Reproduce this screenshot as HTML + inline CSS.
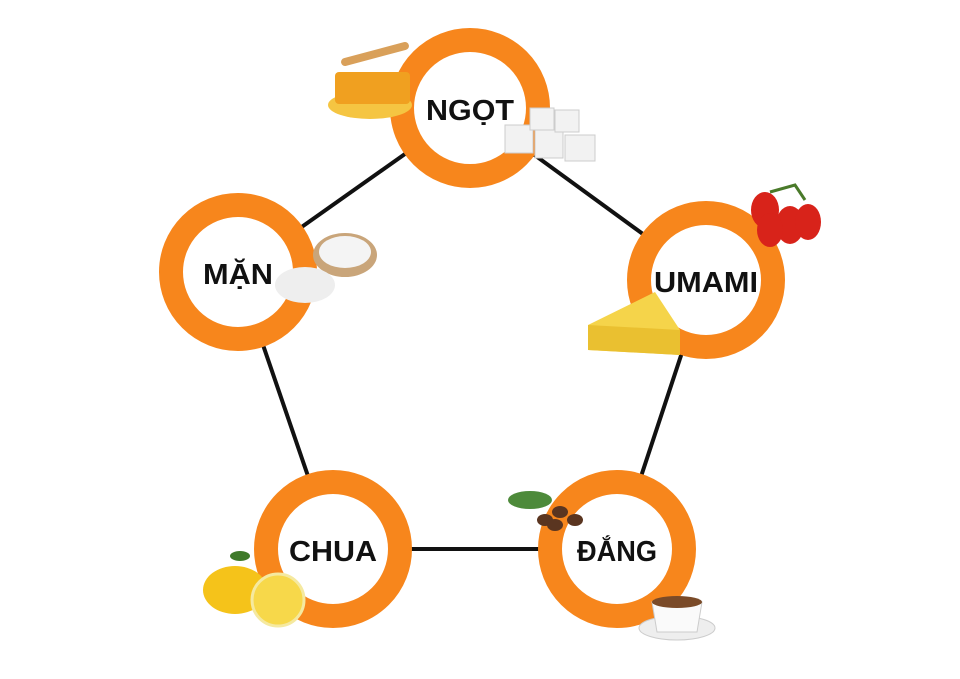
<!DOCTYPE html>
<html><head><meta charset="utf-8"><style>
body{margin:0;background:#fff;}
svg{display:block}
text{font-family:"Liberation Sans","DejaVu Sans",sans-serif;font-weight:bold;fill:#111;text-anchor:middle;}
</style></head><body>
<svg width="960" height="679" viewBox="0 0 960 679">
<g stroke="#111" stroke-width="4">
<line x1="470" y1="108" x2="238" y2="272"/>
<line x1="470" y1="108" x2="706" y2="280"/>
<line x1="238" y1="272" x2="333" y2="549"/>
<line x1="706" y1="280" x2="617" y2="549"/>
<line x1="333" y1="549" x2="617" y2="549"/>
</g>
<g fill="#fff" stroke="#f7861c" stroke-width="24">
<circle cx="470" cy="108" r="68"/>
<circle cx="238" cy="272" r="67"/>
<circle cx="706" cy="280" r="67"/>
<circle cx="333" cy="549" r="67"/>
<circle cx="617" cy="549" r="67"/>
</g>
<!-- honey -->
<ellipse cx="370" cy="105" rx="42" ry="14" fill="#f5c542"/>
<rect x="335" y="72" width="75" height="32" rx="4" fill="#f0a020"/>
<rect x="340" y="50" width="70" height="8" rx="4" fill="#d9a05a" transform="rotate(-15 375 54)"/>
<!-- sugar -->
<g fill="#f2f2f2" stroke="#ccc">
<rect x="505" y="125" width="28" height="28"/><rect x="535" y="130" width="28" height="28"/><rect x="565" y="135" width="30" height="26"/><rect x="530" y="108" width="24" height="22"/><rect x="555" y="110" width="24" height="22"/>
</g>
<!-- salt -->
<ellipse cx="345" cy="255" rx="32" ry="22" fill="#c9a57a"/>
<ellipse cx="345" cy="252" rx="26" ry="16" fill="#f4f4f4"/>
<ellipse cx="305" cy="285" rx="30" ry="18" fill="#eee"/>
<!-- tomatoes -->
<g fill="#d8231a"><ellipse cx="765" cy="210" rx="14" ry="18"/><ellipse cx="790" cy="225" rx="14" ry="19"/><ellipse cx="808" cy="222" rx="13" ry="18"/><ellipse cx="770" cy="230" rx="13" ry="17"/></g>
<path d="M770 192 L795 185 L805 200" stroke="#4a7a2a" stroke-width="3" fill="none"/>
<!-- cheese -->
<polygon points="588,325 655,292 680,330 680,355 588,350" fill="#f5d44a"/>
<polygon points="588,325 680,330 680,355 588,350" fill="#eac030"/>
<!-- coffee beans -->
<ellipse cx="530" cy="500" rx="22" ry="9" fill="#4d8a3a"/>
<g fill="#5a3520"><ellipse cx="545" cy="520" rx="8" ry="6"/><ellipse cx="560" cy="512" rx="8" ry="6"/><ellipse cx="575" cy="520" rx="8" ry="6"/><ellipse cx="555" cy="525" rx="8" ry="6"/></g>
<!-- coffee cup -->
<ellipse cx="677" cy="628" rx="38" ry="12" fill="#eee" stroke="#ccc"/>
<path d="M652 602 L702 602 L697 632 L657 632 Z" fill="#fafafa" stroke="#ccc"/>
<ellipse cx="677" cy="602" rx="25" ry="6" fill="#7a4a28"/>
<!-- lemons -->
<ellipse cx="235" cy="590" rx="32" ry="24" fill="#f5c31a"/>
<circle cx="278" cy="600" r="26" fill="#f7d84a" stroke="#f5e9a0" stroke-width="3"/>
<ellipse cx="240" cy="556" rx="10" ry="5" fill="#3f7a2a"/>
<text x="470" y="120" font-size="29" textLength="88" lengthAdjust="spacingAndGlyphs">NGỌT</text>
<text x="238" y="284" font-size="29" textLength="70" lengthAdjust="spacingAndGlyphs">MẶN</text>
<text x="706" y="292" font-size="29" textLength="104" lengthAdjust="spacingAndGlyphs">UMAMI</text>
<text x="333" y="561" font-size="29" textLength="88" lengthAdjust="spacingAndGlyphs">CHUA</text>
<text x="617" y="561" font-size="29" textLength="80" lengthAdjust="spacingAndGlyphs">ĐẮNG</text>
</svg>
</body></html>
